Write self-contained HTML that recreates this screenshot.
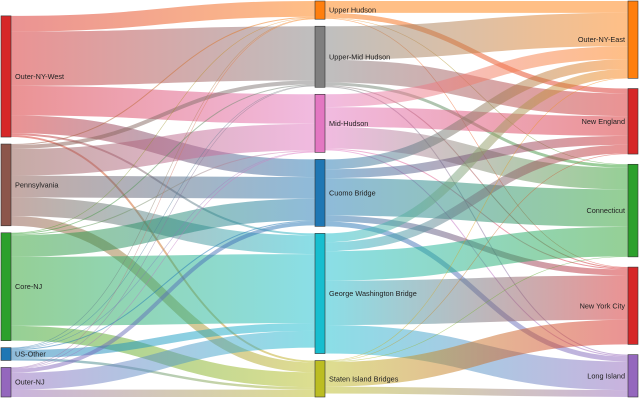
<!DOCTYPE html>
<html><head><meta charset="utf-8"><style>
html,body{margin:0;padding:0;background:#fff;}
svg{display:block;font-family:"Liberation Sans",sans-serif;}
</style></head><body>
<svg id="chart" width="640" height="400" viewBox="0 0 640 400"></svg>
<script>
const nodeNames = ["Outer-NY-West","Pennsylvania","Core-NJ","US-Other","Outer-NJ",
 "Upper Hudson","Upper-Mid Hudson","Mid-Hudson","Cuomo Bridge","George Washington Bridge","Staten Island Bridges",
 "Outer-NY-East","New England","Connecticut","New York City","Long Island"];
const nodeColumns = [0,0,0,0,0,1,1,1,1,1,1,2,2,2,2,2];
const nodeColors = ["#d62728","#8c564b","#2ca02c","#1f77b4","#9467bd",
 "#ff7f0e","#7f7f7f","#e377c2","#1f77b4","#17becf","#bcbd22",
 "#ff7f0e","#d62728","#2ca02c","#d62728","#9467bd"];
const linkSources = [0,0,0,0,0,0, 1,1,1,1,1,1, 2,2,2,2,2,2, 3,3,3,3,3,3, 4,4,4,4,4,4,
 5,5,5,5, 6,6,6,6,6, 7,7,7,7,7, 8,8,8,8,8, 9,9,9,9,9, 10,10,10,10,10];
const linkTargets = [5,6,7,8,9,10, 5,6,7,8,9,10, 5,6,7,8,9,10, 5,6,7,8,9,10, 5,6,7,8,9,10,
 11,12,13,14, 11,12,13,14,15, 11,12,13,14,15, 11,12,13,14,15, 11,12,13,14,15, 11,12,13,14,15];
const linkValues = [16,55,30,18,2,2, 1,4,27,22,19,10, 0.5,1,1,22,70,15, 0.5,0.5,0.5,1,8,2.5, 0.5,0.5,0.5,4,17,7.5,
 12,5,0.5,0.5, 34,23,3,1,1, 13,20,22,1,1, 10,9,38,6,5, 9,9,30,45,29, 0.5,0.5,0.5,25,7];

const svg = document.getElementById('chart');
const NS = "http://www.w3.org/2000/svg";
const colX = [1,315,628], NW = 10, TOP = 1, BOT = 397, PAD = 7;
const colAlign = ["bottom","bottom","top"];
const n = nodeNames.length;
const inV = new Array(n).fill(0), outV = new Array(n).fill(0);
linkValues.forEach((v,i)=>{outV[linkSources[i]]+=v; inV[linkTargets[i]]+=v;});
const val = inV.map((v,i)=>Math.max(v,outV[i]));
let ky = Infinity;
for (let c=0;c<3;c++){
  const ids=[...Array(n).keys()].filter(i=>nodeColumns[i]===c);
  const s=ids.reduce((a,i)=>a+val[i],0);
  ky=Math.min(ky,(BOT-TOP-(ids.length-1)*PAD)/s);
}
const y0=[],y1=[];
for (let c=0;c<3;c++){
  const ids=[...Array(n).keys()].filter(i=>nodeColumns[i]===c);
  const h=ids.reduce((a,i)=>a+val[i]*ky,0);
  let pad=PAD, y;
  if(colAlign[c]==="top"){ y=TOP; pad=(BOT-TOP-h)/(ids.length-1); }
  else { y=BOT-h-(ids.length-1)*PAD; }
  ids.forEach(i=>{y0[i]=y;y1[i]=y+val[i]*ky;y+=val[i]*ky+pad;});
}
const defs=document.createElementNS(NS,'defs');svg.appendChild(defs);
const L=linkValues.map((v,i)=>({i,s:linkSources[i],t:linkTargets[i],v}));
const sy=[],ty=[];
for(let k=0;k<n;k++){
  let off=y0[k];
  L.filter(l=>l.s===k).sort((a,b)=>y0[a.t]-y0[b.t]).forEach(l=>{sy[l.i]=off+l.v*ky/2;off+=l.v*ky;});
  off=y0[k];
  L.filter(l=>l.t===k).sort((a,b)=>y0[a.s]-y0[b.s]).forEach(l=>{ty[l.i]=off+l.v*ky/2;off+=l.v*ky;});
}
const lg=document.createElementNS(NS,'g');svg.appendChild(lg);
L.forEach(l=>{
  const xa=colX[nodeColumns[l.s]]+NW, xb=colX[nodeColumns[l.t]];
  const gid='g'+l.i;
  const g=document.createElementNS(NS,'linearGradient');
  g.setAttribute('id',gid);g.setAttribute('gradientUnits','userSpaceOnUse');
  g.setAttribute('x1',xa);g.setAttribute('x2',xb);g.setAttribute('y1',0);g.setAttribute('y2',0);
  [[0,nodeColors[l.s]],[1,nodeColors[l.t]]].forEach(([o,c])=>{const st=document.createElementNS(NS,'stop');st.setAttribute('offset',o);st.setAttribute('stop-color',c);g.appendChild(st);});
  defs.appendChild(g);
  const xm=(xa+xb)/2;
  const p=document.createElementNS(NS,'path');
  p.setAttribute('d',`M${xa},${sy[l.i]}C${xm},${sy[l.i]} ${xm},${ty[l.i]} ${xb},${ty[l.i]}`);
  p.setAttribute('fill','none');p.setAttribute('stroke',`url(#${gid})`);
  p.setAttribute('stroke-opacity','0.5');p.setAttribute('stroke-width',Math.max(0.6,l.v*ky));
  
  
  lg.appendChild(p);
});
for(let k=0;k<n;k++){
  const c=nodeColumns[k];
  const r=document.createElementNS(NS,'rect');
  r.setAttribute('x',colX[c]);r.setAttribute('y',y0[k]);r.setAttribute('width',NW);r.setAttribute('height',y1[k]-y0[k]);
  r.setAttribute('fill',nodeColors[k]);r.setAttribute('stroke','#333');r.setAttribute('stroke-width','0.6');
  
  
  svg.appendChild(r);
  const t=document.createElementNS(NS,'text');
  t.textContent=nodeNames[k];
  t.setAttribute('y',(y0[k]+y1[k])/2+2.5);
  t.setAttribute('font-size','7.3');t.setAttribute('fill','#222');
  if(c===2){t.setAttribute('x',colX[c]-3);t.setAttribute('text-anchor','end');}
  else{t.setAttribute('x',colX[c]+NW+4);}
  
  
  svg.appendChild(t);
}
</script>
</body></html>
